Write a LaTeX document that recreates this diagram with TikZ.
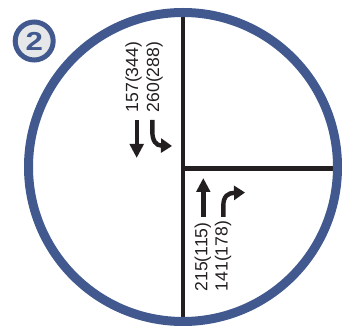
\documentclass[tikz,border=0pt]{standalone}
\usepackage{fontspec}
\setmainfont{Liberation Sans}
\usepackage{tikz}
\usetikzlibrary{arrows.meta, positioning}
\definecolor{ringblue}{HTML}{41598E}
\definecolor{badgegrey}{HTML}{E6E7E9}
\definecolor{roadblack}{HTML}{231F20}
\tikzset{
	road/.style={line width=4.6pt, draw=roadblack},
	lanearrow/.style={line width=4.4pt, draw=roadblack, -{Triangle[width=13.5pt, length=14pt]}},
	turnarrow/.style={line width=4.4pt, draw=roadblack, -{Triangle[width=14pt, length=11pt]}},
	volume/.style={rotate=90, inner sep=0pt, text=roadblack, font=\fontsize{17.6}{17.6}\selectfont},
}

\begin{document}
\begin{tikzpicture}[x=1pt, y=-1pt]
	\useasboundingbox (0, 0) rectangle (349, 328);
	% Roads:
	\coordinate (RN) at (183, 13);
	\coordinate (RS) at (183, 321);
	\coordinate (RC) at (183, 168.5);
	\coordinate (RE) at (337, 168.5);
	\draw[road] (RN) -- (RS);
	\draw[road] (RC) -- (RE);
	% Ring and badge:
	\node[circle, draw=ringblue, line width=9pt, minimum size=309pt, inner sep=0pt](ring) at (183, 167){};
	\node[circle, draw=ringblue, fill=badgegrey, line width=5pt, minimum size=38pt, inner sep=0pt](badge) at (34.2, 41){};
	\node[text=ringblue, inner sep=0pt, xscale=1.2, font=\fontsize{26}{26}\selectfont\bfseries] at (badge.center){2};
	% Southbound lanes:
	\coordinate (SThru0) at (136.7, 120);
	\coordinate (SThru1) at (136.7, 158);
	\coordinate (SLeft0) at (152.3, 120);
	\coordinate (SLeft1) at (152.3, 131);
	\coordinate (SLeft2) at (172, 146);
	\draw[lanearrow] (SThru0) -- (SThru1);
	\draw[turnarrow] (SLeft0) -- (SLeft1) .. controls (152.3, 141) and (156, 145.5) .. (SLeft2);
	\node[volume](volST) at (133.5, 77){157(344)};
	\node[volume](volSL) at (154.5, 77){260(288)};
	% Northbound lanes:
	\coordinate (NThru0) at (203.3, 217);
	\coordinate (NThru1) at (203.3, 178);
	\coordinate (NRight0) at (223.3, 217);
	\coordinate (NRight1) at (223.3, 206);
	\coordinate (NRight2) at (245, 192.5);
	\draw[lanearrow] (NThru0) -- (NThru1);
	\draw[turnarrow] (NRight0) -- (NRight1) .. controls (223.3, 196) and (228, 193) .. (NRight2);
	\node[volume](volNT) at (202.8, 257){215(115)};
	\node[volume](volNR) at (223, 256){141(178)};
\end{tikzpicture}
\end{document}
